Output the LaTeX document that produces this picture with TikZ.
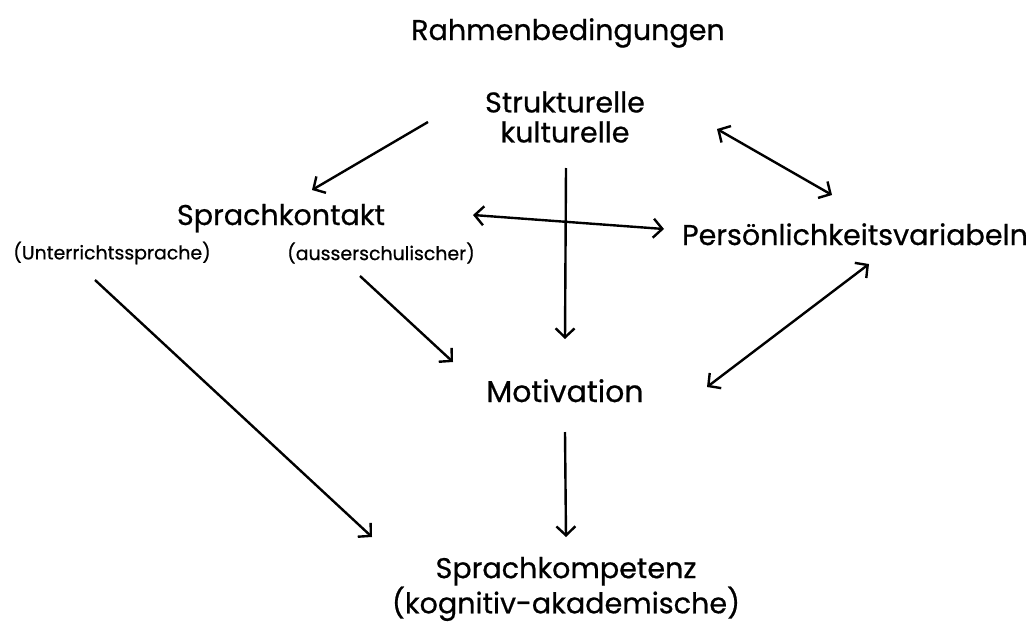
\documentclass[tikz,border=0pt]{standalone}
\usepackage{fontspec}
\setmainfont{Poppins}[BoldFont=Poppins, BoldFeatures={FakeBold=0.6}]
\usetikzlibrary{arrows.meta}
\tikzset{
  main label/.style={font=\bfseries\fontsize{28.6}{30}\selectfont, inner sep=0pt, align=center},
  side label/.style={font=\bfseries\fontsize{18.9}{21}\selectfont, inner sep=0pt},
  one way/.style={-{Straight Barb[length=9pt,width=19pt]}, line width=2.4pt},
  two way/.style={{Straight Barb[length=9pt,width=19pt]}-{Straight Barb[length=9pt,width=19pt]}, line width=2.4pt},
}

\begin{document}
\begin{tikzpicture}[x=1pt, y=-1pt]
  \useasboundingbox (0,0) rectangle (1031,624);

  % Heading and the factors around it.
  \node[main label, anchor=base] (rahmen) at (568,40) {Rahmenbedingungen};
  \node[main label] (struktur) at (565,117) {Strukturelle\\kulturelle};
  \node[main label, anchor=base] (kontakt) at (281,225) {Sprachkontakt};
  \node[side label] (unterricht) at (112,253) {(Unterrichtssprache)};
  \node[side label] (ausser) at (381,253) {(ausserschulischer)};
  \node[main label, anchor=base] (persoenlich) at (855,245) {Persönlichkeitsvariabeln};
  \node[main label, anchor=base, font=\bfseries\fontsize{30}{32}\selectfont] (motivation) at (565,402) {Motivation};
  \node[main label, font=\bfseries\fontsize{28.6}{26}\selectfont] (kompetenz) at (566,589) {Sprachkompetenz\\(kognitiv-akademische)};

  % Influences between the factors.
  \draw[one way] ([xshift=-137pt,yshift=-5pt]struktur.center) -- ([xshift=31pt,yshift=35pt]kontakt.base);
  \draw[two way] ([xshift=192pt,yshift=10pt]kontakt.base) -- ([xshift=-191pt,yshift=16pt]persoenlich.base);
  \draw[one way] ([xshift=1pt,yshift=-51pt]struktur.center) -- ([yshift=63pt]motivation.base);
  \draw[two way] ([xshift=152pt,yshift=-12pt]struktur.center) -- ([xshift=-23pt,yshift=50pt]persoenlich.base);
  \draw[one way] ([xshift=-21pt,yshift=-23pt]ausser.center) -- ([xshift=-112pt,yshift=40pt]motivation.base);
  \draw[one way] ([xshift=-17pt,yshift=-27pt]unterricht.center) -- ([xshift=-194pt,yshift=52pt]kompetenz.center);
  \draw[two way] ([xshift=14pt,yshift=-19pt]persoenlich.base) -- ([xshift=142pt,yshift=15pt]motivation.base);
  \draw[one way] ([yshift=-30pt]motivation.base) -- ([yshift=52pt]kompetenz.center);
\end{tikzpicture}
\end{document}
